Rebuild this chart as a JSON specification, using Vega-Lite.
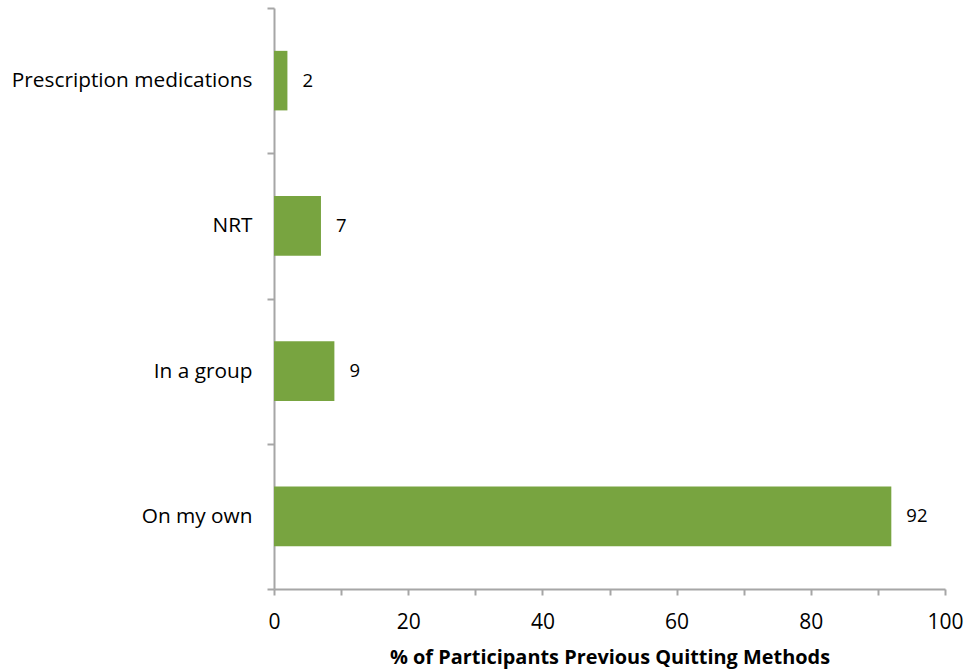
{
  "$schema": "https://vega.github.io/schema/vega-lite/v6.json",
  "autosize": "none",
  "width": 671,
  "height": 581,
  "padding": {"left": 274, "top": 8, "right": 21, "bottom": 80},
  "background": "white",
  "config": {
    "view": {"stroke": null},
    "font": "Open Sans"
  },
  "data": {
    "values": [
      {"method": "Prescription medications", "pct": 2},
      {"method": "NRT", "pct": 7},
      {"method": "In a group", "pct": 9},
      {"method": "On my own", "pct": 92}
    ]
  },
  "resolve": {"axis": {"y": "independent"}},
  "layer": [
    {
      "mark": {"type": "bar", "color": "#78A440"},
      "encoding": {
        "y": {
          "field": "method",
          "type": "nominal",
          "sort": null,
          "scale": {"paddingInner": 0.59, "paddingOuter": 0.295},
          "axis": {
            "orient": "left",
            "title": null,
            "tickOffset": -72.625,
            "labelOffset": 72.625,
            "domainColor": "#A6A6A6",
            "domainWidth": 2,
            "tickColor": "#A6A6A6",
            "tickWidth": 2,
            "tickSize": 7,
            "labelPadding": 15,
            "labelLimit": 400,
            "labelFont": "Open Sans",
            "labelFontSize": 20.8,
            "labelColor": "#000000"
          }
        },
        "x": {
          "field": "pct",
          "type": "quantitative",
          "scale": {"domain": [0, 100], "nice": false},
          "axis": {
            "title": "% of Participants Previous Quitting Methods",
            "values": [0, 10, 20, 30, 40, 50, 60, 70, 80, 90, 100],
            "labelExpr": "datum.value % 20 === 0 ? datum.label : ''",
            "labelFlush": false,
            "grid": false,
            "domainColor": "#A6A6A6",
            "domainWidth": 2,
            "tickColor": "#A6A6A6",
            "tickWidth": 2,
            "tickSize": 6,
            "labelPadding": 16,
            "labelFont": "Open Sans",
            "labelFontSize": 21,
            "labelColor": "#000000",
            "titleFont": "Open Sans",
            "titleFontSize": 19.9,
            "titleFontWeight": "bold",
            "titleColor": "#000000",
            "titlePadding": 15
          }
        }
      }
    },
    {
      "mark": {"type": "text", "align": "left", "baseline": "middle", "dx": 15, "fontSize": 18.5, "font": "Open Sans", "color": "#000000"},
      "encoding": {
        "y": {
          "field": "method",
          "type": "nominal",
          "sort": null,
          "axis": {
            "orient": "left",
            "title": null,
            "values": ["On my own"],
            "tickOffset": 72.625,
            "domain": false,
            "labels": false,
            "tickColor": "#A6A6A6",
            "tickWidth": 2,
            "tickSize": 7
          }
        },
        "x": {"field": "pct", "type": "quantitative"},
        "text": {"field": "pct", "type": "quantitative"}
      }
    }
  ]
}
